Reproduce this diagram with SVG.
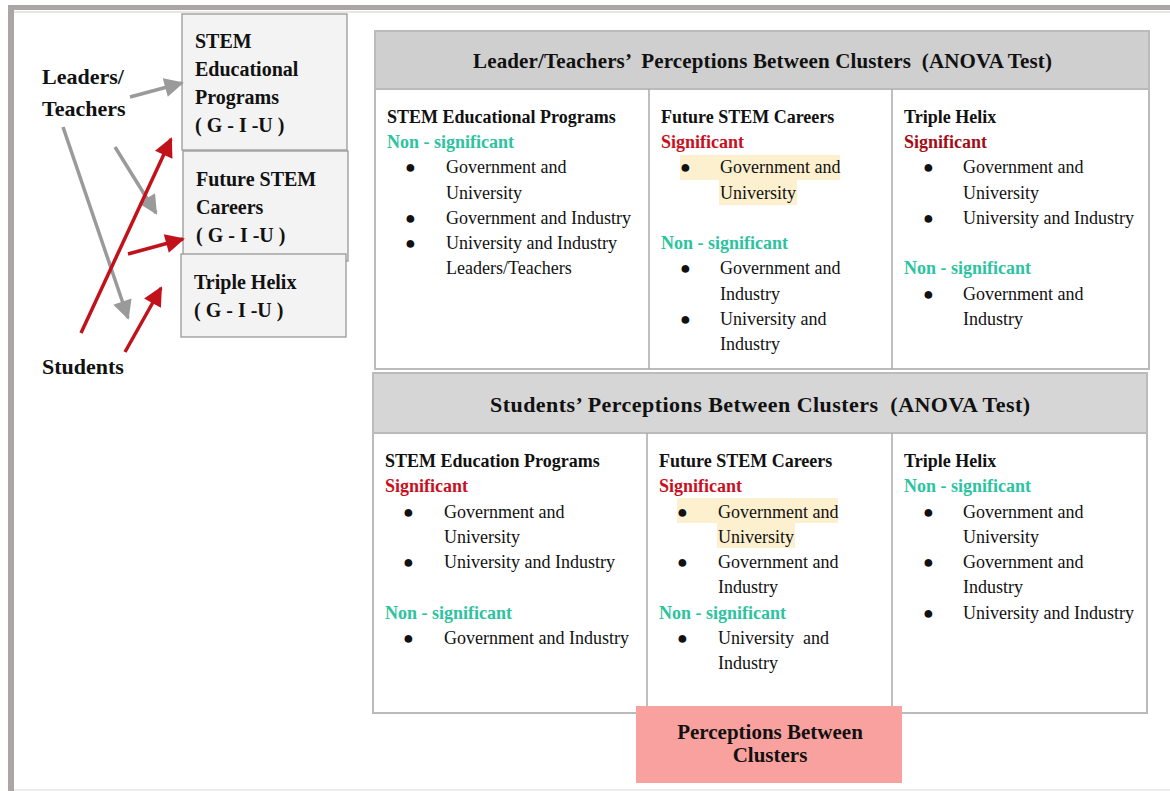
<svg xmlns="http://www.w3.org/2000/svg" width="1170" height="791" viewBox="0 0 1170 791" font-family="'Liberation Serif', 'Times New Roman', 'DejaVu Serif', serif">
<style>
text{font-family:'Liberation Serif', 'Times New Roman', 'DejaVu Serif', serif;fill:#111}
.h{font-size:21px;font-weight:bold}
.t{font-size:18px;font-weight:bold}
.r{font-size:18px}
.lb{font-size:20px;font-weight:bold}
.ld{font-size:22px;font-weight:bold}
.ns{fill:#2cc39f;font-size:18px;font-weight:bold}
.sg{fill:#c8101e;font-size:18px;font-weight:bold}
.sg2{fill:#a30d16;font-size:18px;font-weight:bold}
.box{fill:#f3f3f3;stroke:#999;stroke-width:1.3}
.tbl{fill:#fff;stroke:#bbb;stroke-width:2}
.hdr{fill:#cfcfcf;stroke:#bbb;stroke-width:2}
.div{stroke:#aaa;stroke-width:1.5}
.hl{fill:#fdf0cf}
.ag{stroke:#9a9a9a;stroke-width:3.5;fill:none}
.ar{stroke:#c1121c;stroke-width:3.5;fill:none}
</style>
<defs>
<marker id="mg" viewBox="0 0 10 10" refX="9" refY="5" markerWidth="6" markerHeight="5.5" orient="auto" markerUnits="strokeWidth"><path d="M0,0 L10,5 L0,10 z" fill="#9a9a9a"/></marker>
<marker id="mr" viewBox="0 0 10 10" refX="9" refY="5" markerWidth="6" markerHeight="5.5" orient="auto" markerUnits="strokeWidth"><path d="M0,0 L10,5 L0,10 z" fill="#c1121c"/></marker>
</defs>
<rect width="1170" height="791" fill="#fff"/>
<g id="frame">
<rect x="8" y="5" width="1162" height="5" fill="#aba6a5"/>
<rect x="8" y="5" width="6" height="786" fill="#aba6a5"/>
<rect x="14" y="11" width="1156" height="2" fill="#e6e6e6"/>
<rect x="14" y="789" width="1156" height="2" fill="#ececec"/>
</g>
<g id="leaders"><text class="ld" x="42" y="84">Leaders/</text><text class="ld" x="42" y="116">Teachers</text></g>
<g id="students"><text class="ld" x="42" y="374">Students</text></g>
<g id="box-stem">
<rect class="box" x="182" y="14" width="165" height="136"/>
<text class="lb" x="195" y="48">STEM</text><text class="lb" x="195" y="76">Educational</text><text class="lb" x="195" y="104">Programs</text><text class="lb" x="195" y="132">( G - I -U )</text>
</g>
<g id="box-future">
<rect class="box" x="183" y="151" width="165" height="110"/>
<text class="lb" x="196" y="186">Future STEM</text><text class="lb" x="196" y="214">Careers</text><text class="lb" x="196" y="242">( G - I -U )</text>
</g>
<g id="box-helix">
<rect class="box" x="181" y="254" width="165" height="83"/>
<text class="lb" x="194" y="289">Triple Helix</text><text class="lb" x="194" y="317">( G - I -U )</text>
</g>
<g id="connectors">
<line class="ag" x1="130" y1="97" x2="182" y2="83" marker-end="url(#mg)"/>
<line class="ag" x1="115" y1="147" x2="156" y2="213" marker-end="url(#mg)"/>
<line class="ag" x1="63" y1="127" x2="128" y2="318" marker-end="url(#mg)"/>
<line class="ar" x1="81" y1="333" x2="171" y2="139" marker-end="url(#mr)"/>
<line class="ar" x1="128" y1="254" x2="183" y2="239" marker-end="url(#mr)"/>
<line class="ar" x1="125" y1="352" x2="161" y2="288" marker-end="url(#mr)"/>
</g>
<g id="table-leaders">
<rect class="tbl" x="375" y="31" width="774" height="338"/>
<rect class="hdr" x="375" y="31" width="774" height="58"/>
<text class="h" x="473" y="68" textLength="579" lengthAdjust="spacing" xml:space="preserve">Leader/Teachers’  Perceptions Between Clusters  (ANOVA Test)</text>
<line class="div" x1="649" y1="89" x2="649" y2="369"/>
<line class="div" x1="892" y1="89" x2="892" y2="369"/>
<rect class="hl" x="680" y="155" width="160" height="25"/>
<rect class="hl" x="719" y="180" width="78" height="25"/>
<text class="t" x="387" y="123">STEM Educational Programs</text>
<text class="ns" x="387" y="148">Non - significant</text>
<g class="r">
<text x="405" y="173">●</text><text x="446" y="173">Government and</text>
<text x="446" y="199">University</text>
<text x="405" y="224">●</text><text x="446" y="224">Government and Industry</text>
<text x="405" y="249">●</text><text x="446" y="249">University and Industry</text>
<text x="446" y="274">Leaders/Teachers</text>
</g>
<text class="t" x="661" y="123">Future STEM Careers</text>
<text class="sg" x="661" y="148">Significant</text>
<g class="r">
<text x="680" y="173">●</text><text x="720" y="173">Government and</text>
<text x="720" y="199">University</text>
</g>
<text class="ns" x="661" y="249">Non - significant</text>
<g class="r">
<text x="680" y="274">●</text><text x="720" y="274">Government and</text>
<text x="720" y="300">Industry</text>
<text x="680" y="325">●</text><text x="720" y="325">University and</text>
<text x="720" y="350">Industry</text>
</g>
<text class="t" x="904" y="123">Triple Helix</text>
<text class="sg2" x="904" y="148">Significant</text>
<g class="r">
<text x="923" y="173">●</text><text x="963" y="173">Government and</text>
<text x="963" y="199">University</text>
<text x="923" y="224">●</text><text x="963" y="224">University and Industry</text>
</g>
<text class="ns" x="904" y="274">Non - significant</text>
<g class="r">
<text x="923" y="300">●</text><text x="963" y="300">Government and</text>
<text x="963" y="325">Industry</text>
</g>
</g>
<g id="table-students">
<rect class="tbl" x="373" y="373" width="774" height="340"/>
<rect class="hdr" x="373" y="373" width="774" height="60" style="fill:#d6d6d6"/>
<text class="h" x="490" y="412" textLength="540" lengthAdjust="spacing" xml:space="preserve" style="font-size:22px">Students’ Perceptions Between Clusters  (ANOVA Test)</text>
<line class="div" x1="647" y1="433" x2="647" y2="713"/>
<line class="div" x1="892" y1="433" x2="892" y2="713"/>
<rect class="hl" x="677" y="498" width="161" height="25"/>
<rect class="hl" x="717" y="523" width="78" height="25"/>
<text class="t" x="385" y="467">STEM Education Programs</text>
<text class="sg" x="385" y="492">Significant</text>
<g class="r">
<text x="403" y="518">●</text><text x="444" y="518">Government and</text>
<text x="444" y="543">University</text>
<text x="403" y="568">●</text><text x="444" y="568">University and Industry</text>
</g>
<text class="ns" x="385" y="619">Non - significant</text>
<g class="r">
<text x="403" y="644">●</text><text x="444" y="644">Government and Industry</text>
</g>
<text class="t" x="659" y="467">Future STEM Careers</text>
<text class="sg" x="659" y="492">Significant</text>
<g class="r">
<text x="677" y="518">●</text><text x="718" y="518">Government and</text>
<text x="718" y="543">University</text>
<text x="677" y="568">●</text><text x="718" y="568">Government and</text>
<text x="718" y="593">Industry</text>
</g>
<text class="ns" x="659" y="619">Non - significant</text>
<g class="r">
<text x="677" y="644">●</text><text x="718" y="644" xml:space="preserve">University  and</text>
<text x="718" y="669">Industry</text>
</g>
<text class="t" x="904" y="467">Triple Helix</text>
<text class="ns" x="904" y="492">Non - significant</text>
<g class="r">
<text x="923" y="518">●</text><text x="963" y="518">Government and</text>
<text x="963" y="543">University</text>
<text x="923" y="568">●</text><text x="963" y="568">Government and</text>
<text x="963" y="593">Industry</text>
<text x="923" y="619">●</text><text x="963" y="619">University and Industry</text>
</g>
</g>
<g id="summary">
<rect x="636" y="706" width="266" height="77" fill="#f9a19e"/>
<text class="lb" x="770" y="739" text-anchor="middle" style="font-size:21px">Perceptions Between</text>
<text class="lb" x="770" y="762" text-anchor="middle" style="font-size:21px">Clusters</text>
</g>
</svg>
